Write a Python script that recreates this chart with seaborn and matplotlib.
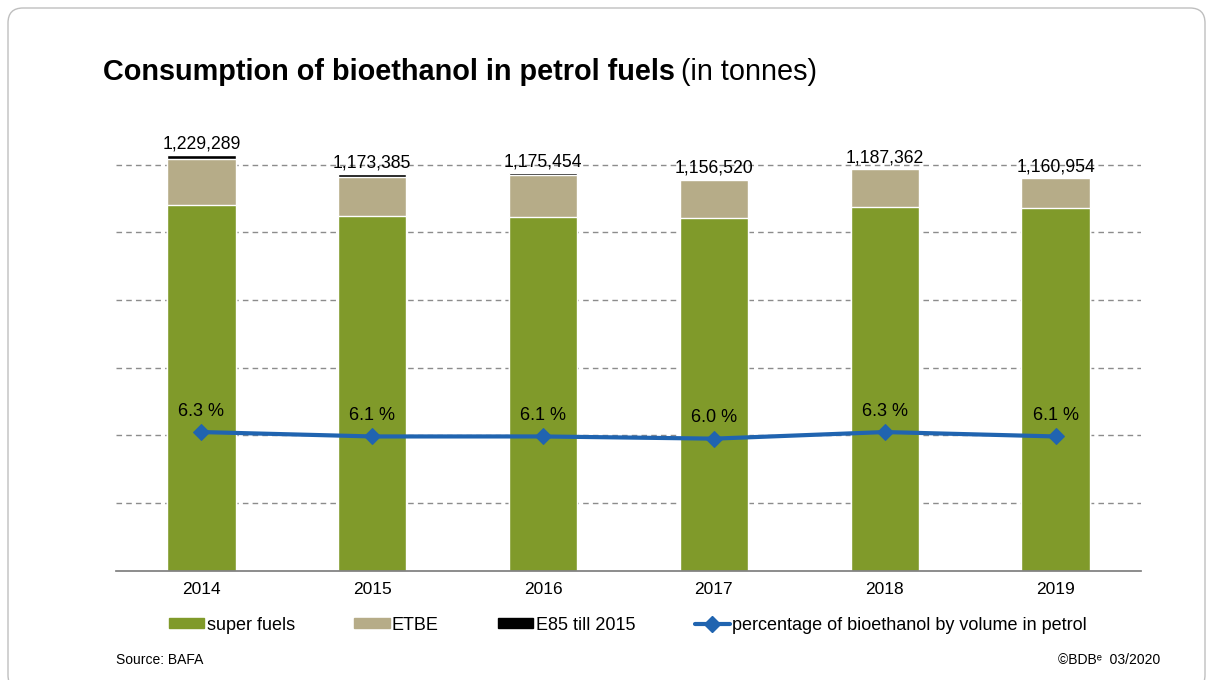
import matplotlib
matplotlib.use("Agg")
import matplotlib.pyplot as plt
import seaborn as sns
import numpy as np
import pandas as pd
from matplotlib.patches import FancyBboxPatch, Patch
from matplotlib.lines import Line2D

# Daten (Tonnen)
years = ["2014", "2015", "2016", "2017", "2018", "2019"]
totals = [1229289, 1173385, 1175454, 1156520, 1187362, 1160954]
etbe = [137000, 115000, 124000, 112600, 111600, 88000]
e85 = [11800, 8600, 4500, 0, 0, 0]
pct = [6.3, 6.1, 6.1, 6.0, 6.3, 6.1]

GREEN = "#809A2A"
ETBE_COL = "#B6AC88"
BLUE = "#2064B0"
GRID = "#8C8C8C"

sns.set_theme(style="white")
plt.rcParams["font.family"] = ["Liberation Sans", "DejaVu Sans"]
plt.rcParams["text.color"] = "black"

df = pd.DataFrame({"year": years, "total": totals, "etbe": etbe, "e85": e85})
df["super"] = df["total"] - df["etbe"] - df["e85"]
df["lvl2"] = df["super"] + df["etbe"]
df["lvl3"] = df["lvl2"] + df["e85"]

fig = plt.figure(figsize=(12.13, 6.8), dpi=100)
ax = fig.add_axes([116 / 1213, 109.5 / 680, 1025 / 1213, 439.5 / 680])

# gestapelte Balken: von oben nach unten uebereinander zeichnen
sns.barplot(data=df, x="year", y="lvl3", color="black", width=0.4, saturation=1, ax=ax)
sns.barplot(data=df, x="year", y="lvl2", color=ETBE_COL, width=0.4, saturation=1, ax=ax)
sns.barplot(data=df, x="year", y="super", color=GREEN, width=0.4, saturation=1, ax=ax)

ax.set_ylim(0, 1300000)
ax.set_xlim(-0.5, 5.5)
ax.set_yticks(np.arange(200000, 1200001, 200000))
ax.set_yticklabels([])
ax.set_axisbelow(True)
ax.yaxis.grid(True, linestyle=(0, (4, 3)), color=GRID, lw=1)
ax.xaxis.grid(False)
ax.set_xlabel("")
ax.set_ylabel("")
for s in ["left", "right", "top"]:
    ax.spines[s].set_visible(False)
ax.spines["bottom"].set_color("#7F7F7F")
ax.tick_params(axis="y", length=0)
ax.tick_params(axis="x", which="major", length=0, pad=8, labelsize=12.5, labelcolor="black")
ax.set_xticks(np.arange(-0.5, 6, 1), minor=True)
ax.tick_params(axis="x", which="minor", length=5, width=1, color="#7F7F7F", direction="out")

for i, t in enumerate(df["total"]):
    ax.annotate(f"{t:,}", (i, df["lvl3"][i]), xytext=(0, 2), textcoords="offset points",
                ha="center", va="bottom", fontsize=12.7)

# Anteil Bioethanol (zweite Achse, unsichtbar)
ax2 = ax.twinx()
sns.lineplot(x=np.arange(len(years)), y=pct, ax=ax2, color=BLUE, lw=3, marker="D",
             markersize=8, markeredgecolor=BLUE)
ax2.set_ylim(0, 20)
ax2.set_xlim(-0.5, 5.5)
ax2.axis("off")
for i, p in enumerate(pct):
    ax2.annotate(f"{p:.1f} %", (i, p), xytext=(0, 9), textcoords="offset points",
                 ha="center", va="bottom", fontsize=13)

# Titel
t1 = fig.text(103 / 1213, 1 - 72 / 680, "Consumption of bioethanol in petrol fuels",
              fontsize=20.8, fontweight="bold", va="center")
fig.canvas.draw()
bb = t1.get_window_extent()
fig.text(bb.x1 / 1213 + 6 / 1213, 1 - 72 / 680, "(in tonnes)", fontsize=20.8, va="center")

# Legende
handles = [Patch(color=GREEN), Patch(color=ETBE_COL), Patch(color="black"),
           Line2D([], [], color=BLUE, lw=3, marker="D", markersize=8)]
labels = ["super fuels", "ETBE", "E85 till 2015", "percentage of bioethanol by volume in petrol"]
fig.legend(handles, labels, loc="center", bbox_to_anchor=(628 / 1213, 1 - 625 / 680), ncol=4,
           frameon=False, fontsize=13, handlelength=1.95, handleheight=0.5,
           handletextpad=0.12, columnspacing=3.3)

fig.text(116 / 1213, 1 - 660 / 680, "Source: BAFA", fontsize=10, va="center")
fig.text(1160 / 1213, 1 - 660 / 680, "©BDB\u1d49  03/2020", fontsize=10, va="center", ha="right")

# abgerundeter Rahmen
fig.patches.append(FancyBboxPatch((0.08, -0.1), 11.97, 6.82,
                                  boxstyle="round,pad=0,rounding_size=0.15",
                                  transform=fig.dpi_scale_trans, fill=False,
                                  edgecolor="#BFBFBF", lw=1))

fig.savefig("out.png", dpi=100)
